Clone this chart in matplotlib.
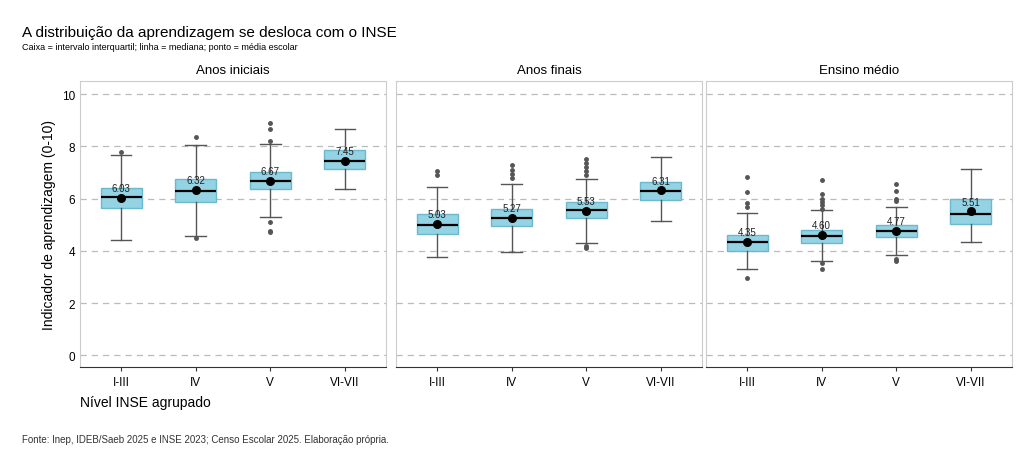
import matplotlib
matplotlib.use("Agg")
import matplotlib.pyplot as plt

panels = ["Anos iniciais", "Anos finais", "Ensino médio"]
groups = ["I-III", "IV", "V", "VI-VII"]

# per panel, per group: whislo, q1, med, q3, whishi
whislo = [[4.40, 4.55, 5.28, 6.38], [3.75, 3.95, 4.30, 5.15], [3.32, 3.60, 3.82, 4.32]]
q1 = [[5.62, 5.88, 6.35, 7.12], [4.65, 4.95, 5.25, 5.95], [4.00, 4.31, 4.53, 5.03]]
med = [[6.05, 6.30, 6.68, 7.42], [5.00, 5.25, 5.55, 6.30], [4.33, 4.58, 4.76, 5.40]]
q3 = [[6.42, 6.75, 7.00, 7.87], [5.40, 5.60, 5.85, 6.65], [4.60, 4.81, 4.97, 6.00]]
whishi = [[7.65, 8.05, 8.10, 8.68], [6.45, 6.55, 6.75, 7.60], [5.46, 5.56, 5.69, 7.14]]
means = [[6.03, 6.32, 6.67, 7.45], [5.03, 5.27, 5.53, 6.31], [4.35, 4.60, 4.77, 5.51]]
fliers = [
    [[7.80], [8.37, 4.50], [8.20, 8.65, 8.90, 5.10, 4.75, 4.70], []],
    [[6.90, 7.05], [6.80, 6.95, 7.10, 7.30], [6.90, 7.05, 7.20, 7.35, 7.50, 4.20, 4.10], []],
    [[6.83, 6.24, 5.82, 5.67, 2.97], [6.71, 6.16, 5.97, 5.85, 5.75, 5.60, 3.52, 3.32],
     [6.55, 6.28, 6.00, 5.90, 3.70, 3.60], []],
]

plt.rcParams['font.family'] = ['Liberation Sans', 'DejaVu Sans']
fig = plt.figure(figsize=(10.24, 4.6), dpi=100)
lefts = [80, 396, 706]
width = 306
for p in range(3):
    ax = fig.add_axes([lefts[p] / 1024, 1 - 368 / 460, width / 1024, (368 - 82) / 460])
    stats = []
    for g in range(4):
        stats.append(dict(whislo=whislo[p][g], q1=q1[p][g], med=med[p][g], q3=q3[p][g],
                          whishi=whishi[p][g], fliers=fliers[p][g], mean=means[p][g]))
    ax.bxp(stats, positions=range(4), widths=0.55, patch_artist=True,
           boxprops=dict(facecolor="#93d3e3", edgecolor="#6cb8cc", linewidth=1),
           medianprops=dict(color="black", linewidth=1.6),
           whiskerprops=dict(color="#555555", linewidth=1),
           capprops=dict(color="#555555", linewidth=1),
           flierprops=dict(marker="o", markersize=2.5, markerfacecolor="#555555",
                           markeredgecolor="#555555"))
    ax.scatter(range(4), means[p], color="black", s=30, zorder=5)
    for g in range(4):
        ax.text(g, means[p][g] + 0.18, f"{means[p][g]:.2f}", ha="center", va="bottom",
                fontsize=7, color="#222222", zorder=6)
    ax.set_xlim(-0.55, 3.55)
    ax.set_ylim(-0.45, 10.5)
    ax.set_yticks([0, 2, 4, 6, 8, 10])
    ax.grid(axis="y", linestyle=(0, (5, 4)), color="#bbbbbb", linewidth=0.9)
    ax.set_axisbelow(True)
    ax.set_xticks(range(4))
    ax.set_xticklabels(groups, fontsize=8.5)
    for s in ["top", "right", "left"]:
        ax.spines[s].set_color("#cccccc")
    ax.spines["bottom"].set_color("#333333")
    ax.tick_params(axis="x", length=3, color="#333333")
    ax.set_title(panels[p], fontsize=9.5, pad=6)
    if p == 0:
        ax.tick_params(axis="y", labelsize=8.5, length=0)
        ax.set_ylabel("Indicador de aprendizagem (0-10)", fontsize=10)
    else:
        ax.tick_params(axis="y", left=False, labelleft=False)

fig.text(22 / 1024, 1 - 33 / 460, "A distribuição da aprendizagem se desloca com o INSE",
         fontsize=11, va="center")
fig.text(22 / 1024, 1 - 48 / 460, "Caixa = intervalo interquartil; linha = mediana; ponto = média escolar",
         fontsize=6.5, va="center")
fig.text(80 / 1024, 1 - 403 / 460, "Nível INSE agrupado", fontsize=10, va="center")
fig.text(22 / 1024, 1 - 440 / 460,
         "Fonte: Inep, IDEB/Saeb 2025 e INSE 2023; Censo Escolar 2025. Elaboração própria.",
         fontsize=7, va="center", color="#333333")
fig.savefig("out.png", dpi=100)
